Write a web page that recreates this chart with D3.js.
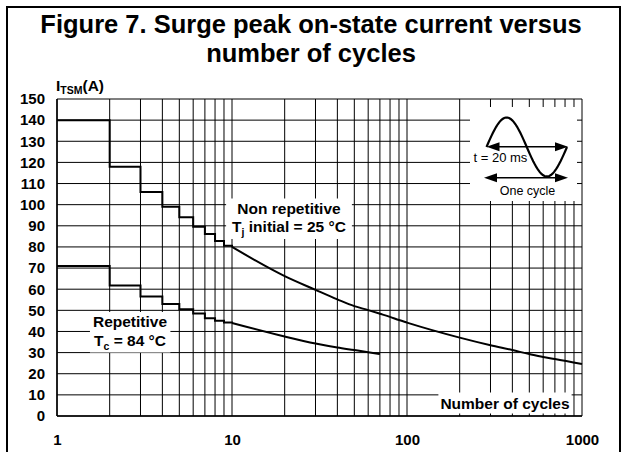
<!DOCTYPE html>
<meta charset="utf-8">
<body style="margin:0;background:#fff">
<style>
text { font-family: Arial, "Liberation Sans", Helvetica, sans-serif; fill: #000; }
.tick { font-size: 15px; font-weight: bold; }
.lbl { font-size: 15.5px; font-weight: bold; text-anchor: middle; }
.grid { stroke: #000; stroke-width: 1; }
.curve { fill: none; stroke: #000; stroke-width: 2; }
</style>
<script src="https://d3js.org/d3.v7.min.js"></script>
<script>
// values
var yTicks = [0, 10, 20, 30, 40, 50, 60, 70, 80, 90, 100, 110, 120, 130, 140, 150];
var xTicks = [1, 10, 100, 1000];

// non repetitive, Tj initial = 25 C
var nonRepSteps = [[1, 140], [2, 118], [3, 106], [4, 99], [5, 94], [6, 89.6], [7, 86.1], [8, 82.8], [9, 80.6], [10, 80]];
var nonRepCurve = [[10, 80], [20, 66.2], [30, 59.7], [40, 55.2], [50, 52], [60, 50.1], [70, 48.4], [80, 46.9], [90, 45.4],
                   [100, 44.2], [200, 37.1], [300, 33.5], [400, 31.2], [500, 29.3], [600, 27.9], [700, 27], [1000, 24.6]];

// repetitive, Tc = 84 C
var repSteps = [[1, 71], [2, 61.7], [3, 56.5], [4, 53], [5, 50.5], [6, 48.5], [7, 46.2], [8, 45.1], [9, 44.2], [10, 44]];
var repCurve = [[10, 44], [20, 37.6], [30, 34.3], [40, 32.4], [50, 31.2], [60, 30.2], [70, 29.3]];

var W = 622, H = 452;
var svg = d3.select("body").append("svg").attr("width", W).attr("height", H);

// outer frame
svg.append("rect").attr("x", 7).attr("y", 7).attr("width", 613).attr("height", 460)
  .attr("fill", "none").attr("stroke", "#000").attr("stroke-width", 2);

svg.append("text").attr("x", 311).attr("y", 33).attr("text-anchor", "middle")
  .style("font-size", "25.5px").style("font-weight", "bold")
  .text("Figure 7. Surge peak on-state current versus");
svg.append("text").attr("x", 311).attr("y", 62).attr("text-anchor", "middle")
  .style("font-size", "25.5px").style("font-weight", "bold")
  .text("number of cycles");

var x = d3.scaleLog().domain([1, 1000]).range([57, 582]);
var y = d3.scaleLinear().domain([0, 150]).range([416, 99]);

var g = svg.append("g");

// grid
var xGrid = [];
[1, 10, 100].forEach(function(d) { for (var k = 1; k < 10; k++) xGrid.push(k * d); });
xGrid.push(1000);

g.selectAll(".vg").data(xGrid).enter().append("line").attr("class", "grid")
  .attr("x1", function(d) { return x(d); }).attr("x2", function(d) { return x(d); })
  .attr("y1", y(150)).attr("y2", y(0));
g.selectAll(".hg").data(yTicks).enter().append("line").attr("class", "grid")
  .attr("x1", x(1)).attr("x2", x(1000))
  .attr("y1", function(d) { return y(d); }).attr("y2", function(d) { return y(d); });

// axis labels
var yAxis = d3.axisLeft(y).tickValues(yTicks).tickSize(0).tickPadding(12);
var ya = svg.append("g").attr("transform", "translate(" + x(1) + ",0)").call(yAxis);
ya.select(".domain").remove();
ya.selectAll("text").attr("class", "tick").attr("font-family", null).attr("font-size", null);

var xAxis = d3.axisBottom(x).tickValues(xTicks).tickFormat(d3.format("d")).tickSize(0).tickPadding(18);
var xa = svg.append("g").attr("transform", "translate(0," + y(0) + ")").call(xAxis);
xa.select(".domain").remove();
xa.selectAll("text").attr("class", "tick").attr("font-family", null).attr("font-size", null);

// frame of plot
svg.append("line").attr("x1", x(1)).attr("x2", x(1)).attr("y1", y(150)).attr("y2", y(0))
  .attr("stroke", "#000").attr("stroke-width", 1.5);
svg.append("line").attr("x1", x(1)).attr("x2", x(1000)).attr("y1", y(0)).attr("y2", y(0))
  .attr("stroke", "#000").attr("stroke-width", 1.5);

var yl = svg.append("text").attr("x", 56).attr("y", 91).style("font-size", "15.5px").style("font-weight", "bold");
yl.append("tspan").text("I");
yl.append("tspan").attr("dy", 3).style("font-size", "10.5px").text("TSM");
yl.append("tspan").attr("dy", -3).text("(A)");

// curves
var stepLine = d3.line().x(function(d) { return x(d[0]); }).y(function(d) { return y(d[1]); }).curve(d3.curveStepAfter);
var smooth = d3.line().x(function(d) { return x(d[0]); }).y(function(d) { return y(d[1]); }).curve(d3.curveMonotoneX);

[nonRepSteps, repSteps].forEach(function(s) {
  svg.append("path").attr("class", "curve").attr("d", stepLine(s));
});
[nonRepCurve, repCurve].forEach(function(s) {
  svg.append("path").attr("class", "curve").attr("d", smooth(s));
});

// labels with white boxes
function boxLabel(cx, lines, pad) {
  var grp = svg.append("g");
  var bg = grp.append("rect").attr("fill", "#fff");
  var t = grp.append("g");
  lines.forEach(function(l) {
    var tx = t.append("text").attr("class", "lbl").attr("x", cx).attr("y", l.y);
    l.parts.forEach(function(p) {
      var ts = tx.append("tspan").text(p[0]);
      if (p[1] == "sub") ts.attr("dy", 4).style("font-size", "10.5px");
      if (p[1] == "up") ts.attr("dy", -4);
    });
  });
  var bb = t.node().getBBox();
  bg.attr("x", bb.x - pad[0]).attr("y", bb.y - pad[1]).attr("width", bb.width + 2 * pad[0]).attr("height", bb.height + 2 * pad[1]);
}

boxLabel(289, [
  {y: 213.5, parts: [["Non repetitive"]]},
  {y: 232, parts: [["T"], ["j", "sub"], [" initial = 25 °C", "up"]]}
], [6, 1]);

boxLabel(130, [
  {y: 327, parts: [["Repetitive"]]},
  {y: 345.5, parts: [["T"], ["c", "sub"], [" = 84 °C", "up"]]}
], [3, 1]);

boxLabel(505, [
  {y: 408.5, parts: [["Number of cycles"]]}
], [2, 2]);

// inset: one cycle of the mains sine
var inset = svg.append("g");
inset.append("rect").attr("x", 470).attr("y", 107).attr("width", 107).attr("height", 94).attr("fill", "#fff");
var x0 = 486.5, x1 = 567, cy = 147, amp = 29.5;
var sinePts = d3.range(0, 1.0001, 0.02).map(function(t) { return [x0 + t * (x1 - x0), cy - amp * Math.sin(2 * Math.PI * t)]; });
inset.append("path").attr("d", d3.line()(sinePts)).attr("fill", "none").attr("stroke", "#000").attr("stroke-width", 2.2);

function dblArrow(xa, xb, yy) {
  var hl = 13, hw = 4.5;
  inset.append("line").attr("x1", xa + hl - 1).attr("x2", xb - hl + 1).attr("y1", yy).attr("y2", yy)
    .attr("stroke", "#000").attr("stroke-width", 1.5);
  inset.append("path").attr("d", "M" + xa + "," + yy + "L" + (xa + hl) + "," + (yy - hw) + "L" + (xa + hl) + "," + (yy + hw) + "Z");
  inset.append("path").attr("d", "M" + xb + "," + yy + "L" + (xb - hl) + "," + (yy - hw) + "L" + (xb - hl) + "," + (yy + hw) + "Z");
}
dblArrow(486.5, 568, 146.7);
dblArrow(484, 568, 177.7);

inset.append("text").attr("x", 473.5).attr("y", 162).style("font-size", "13px").text("t = 20 ms");
inset.append("text").attr("x", 527.5).attr("y", 195).attr("text-anchor", "middle").style("font-size", "12.5px").text("One cycle");
</script>
</body>
